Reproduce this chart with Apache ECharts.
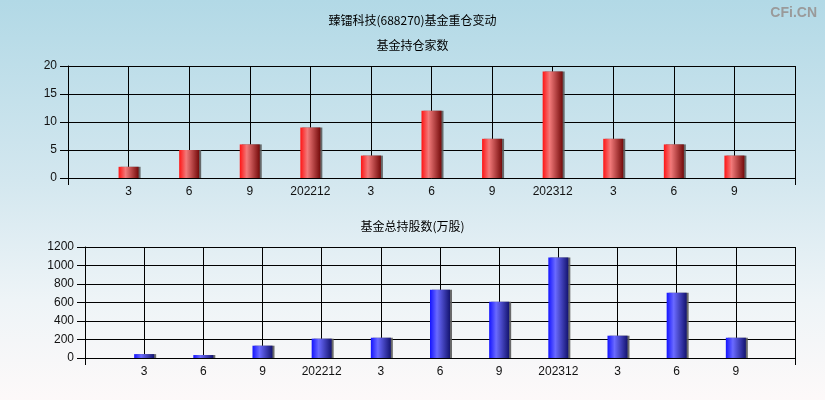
<!DOCTYPE html>
<html>
<head>
<meta charset="utf-8">
<script src="https://cdn.jsdelivr.net/npm/echarts@6/dist/echarts.min.js"></script>
<style>
html,body{margin:0;padding:0;}
#c{width:825px;height:400px;background:linear-gradient(to bottom,#b2d9e6 0%,#d3e7ef 45%,#eef4f7 75%,#fdf9f9 100%);}
</style>
</head>
<body>
<div id="c"></div>
<script>
var categories = ['', '3', '6', '9', '202212', '3', '6', '9', '202312', '3', '6', '9', ''];
var fundCount = [null, 2, 5, 6, 9, 4, 12, 7, 19, 7, 6, 4, null];
var fundShares = [null, 42, 32, 133, 209, 219, 738, 609, 1086, 241, 706, 219, null];
var topTicks = [0, 5, 10, 15, 20];
var bottomTicks = [0, 200, 400, 600, 800, 1000, 1200];

var chart = echarts.init(document.getElementById('c'), null, {renderer: 'canvas'});
var numFont = '"Liberation Sans", Arial, sans-serif';
var cjkFont = '"Noto Sans CJK SC", sans-serif';

function xAxis(gi) {
  return {
    type: 'category', gridIndex: gi, data: categories, boundaryGap: false,
    axisLine: {show: true, lineStyle: {color: '#000', width: 1}},
    axisTick: {show: true, length: 7, lineStyle: {color: '#000'},
      interval: function (i) { return i === 0 || i === categories.length - 1; }},
    axisLabel: {color: '#111', fontSize: 12, fontFamily: numFont, margin: 8, interval: 0},
    splitLine: {show: true, interval: 0, lineStyle: {color: '#000', width: 1}}
  };
}
function yAxis(gi, ticks) {
  return {
    type: 'value', gridIndex: gi, min: ticks[0], max: ticks[ticks.length - 1],
    interval: ticks[1] - ticks[0],
    axisLine: {show: true, lineStyle: {color: '#000', width: 1}},
    axisTick: {show: true, length: 8, lineStyle: {color: '#000'}},
    axisLabel: {color: '#111', fontSize: 12, fontFamily: numFont, margin: 11,
      formatter: function (v) { return String(v); }},
    splitLine: {show: true, lineStyle: {color: '#000', width: 1}}
  };
}
function barStyle(c0, c1, c2) {
  return {
    color: new echarts.graphic.LinearGradient(0, 0, 1, 0, [
      {offset: 0, color: c0}, {offset: 0.35, color: c1}, {offset: 1, color: c2}
    ]),
    shadowColor: 'rgba(90,90,90,0.9)', shadowOffsetX: 2, shadowOffsetY: 0, shadowBlur: 0
  };
}

chart.setOption({
  animation: false,
  title: [
    {text: '臻镭科技(688270)基金重仓变动', left: 'center', top: 9,
      textStyle: {fontSize: 12, fontWeight: 'normal', color: '#000', fontFamily: cjkFont}},
    {text: '基金持仓家数', left: 'center', top: 34,
      textStyle: {fontSize: 12, fontWeight: 'normal', color: '#000', fontFamily: cjkFont}},
    {text: '基金总持股数(万股)', left: 'center', top: 215,
      textStyle: {fontSize: 12, fontWeight: 'normal', color: '#000', fontFamily: cjkFont}},
    {text: 'CFi.CN', right: 3, top: 1,
      textStyle: {fontSize: 14, fontWeight: 'bold', color: '#9a9a9a', fontFamily: numFont}}
  ],
  grid: [
    {left: 68, right: 30, top: 66, height: 112},
    {left: 85, right: 30, top: 247, height: 111}
  ],
  xAxis: [xAxis(0), xAxis(1)],
  yAxis: [yAxis(0, topTicks), yAxis(1, bottomTicks)],
  series: [
    {type: 'bar', xAxisIndex: 0, yAxisIndex: 0, data: fundCount, barWidth: 20,
      itemStyle: barStyle('#ff1414', '#f27a7a', '#740a0a')},
    {type: 'bar', xAxisIndex: 1, yAxisIndex: 1, data: fundShares, barWidth: 20,
      itemStyle: barStyle('#1414ff', '#6a6aff', '#141470')}
  ]
});
</script>
</body>
</html>
